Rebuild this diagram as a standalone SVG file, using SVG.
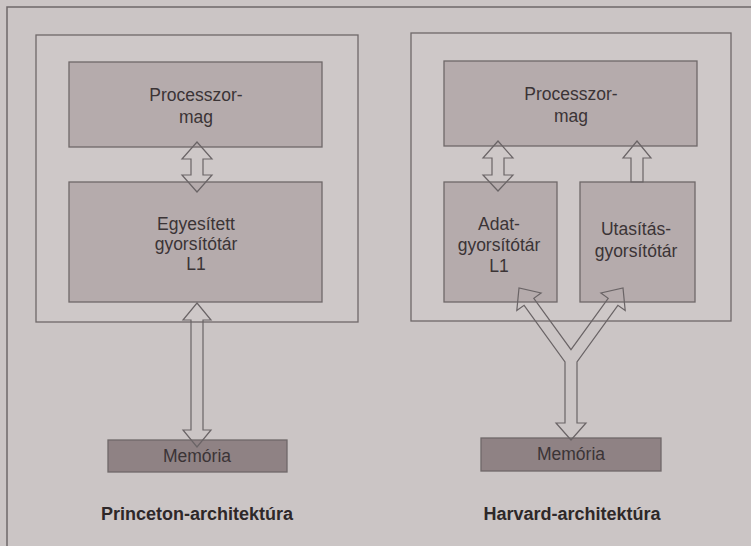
<svg xmlns="http://www.w3.org/2000/svg" width="751" height="546" viewBox="0 0 751 546">
<style>
.frame{fill:none;stroke:#6f6869;stroke-width:1.5}
.outer{fill:#cec8c8;stroke:#6f6869;stroke-width:1.3}
.box{fill:#b5abac;stroke:#6f6869;stroke-width:1.3}
.mem{fill:#8f8284;stroke:#6f6869;stroke-width:1.3}
.arr{fill:none;stroke:#6a6466;stroke-width:1.2;stroke-linejoin:miter}
.t{font-family:"Liberation Sans",Arial,sans-serif;font-size:17.5px;fill:#3b3436;text-anchor:middle}
.cap{font-family:"Liberation Sans",Arial,sans-serif;font-size:18px;font-weight:bold;fill:#2e2829;text-anchor:middle}
</style>
<rect x="0" y="0" width="751" height="546" fill="#cbc5c5"/>
<polyline class="frame" points="7,546 7,7 751,7"/>
<g id="princeton-chip"><rect class="outer" x="36" y="35" width="322" height="287"/></g>
<g id="harvard-chip"><rect class="outer" x="411" y="33" width="320" height="288"/></g>
<g id="p-core"><rect class="box" x="69" y="62" width="253" height="85"/>
<text class="t" x="196" y="101">Processzor-</text><text class="t" x="196" y="123">mag</text></g>
<g id="p-cache"><rect class="box" x="69" y="182" width="253" height="120"/>
<text class="t" x="196" y="230">Egyesített</text><text class="t" x="196" y="250">gyorsítótár</text><text class="t" x="196" y="270">L1</text></g>
<g id="p-mem"><rect class="mem" x="108" y="440" width="179" height="32"/>
<text class="t" x="197" y="462">Memória</text></g>
<g id="h-core"><rect class="box" x="444" y="61" width="253" height="85"/>
<text class="t" x="571" y="100">Processzor-</text><text class="t" x="571" y="122">mag</text></g>
<g id="h-dcache"><rect class="box" x="444" y="182" width="113" height="120"/>
<text class="t" x="499" y="230">Adat-</text><text class="t" x="499" y="251">gyorsítótár</text><text class="t" x="499" y="272">L1</text></g>
<g id="h-icache"><rect class="box" x="580" y="182" width="115" height="120"/>
<text class="t" x="636" y="235">Utasítás-</text><text class="t" x="636" y="257">gyorsítótár</text></g>
<g id="h-mem"><rect class="mem" x="481" y="438" width="180" height="33"/>
<text class="t" x="571" y="460">Memória</text></g>
<g id="connectors">
<polygon class="arr" points="197,142 212,159 203,159 203,175 212,175 197,192 182,175 191,175 191,159 182,159"/>
<polygon class="arr" points="197,303 211,320 203,320 203,430 211,430 197,447 183,430 191,430 191,320 183,320"/>
<polygon class="arr" points="498,141 513,158 504,158 504,175 513,175 498,191 483,175 492,175 492,158 483,158"/>
<polygon class="arr" points="637,141 651,158 643,158 643,182 631,182 631,158 623,158"/>
<polygon class="arr" points="571,440 556,423 565,423 565,362 524.1,305.3 516.8,310.6 519,288 541.1,293 533.8,298.3 571,349.7 608.2,298.3 600.9,293 623,288 625.2,310.6 617.9,305.3 577,362 577,423 586,423"/>
</g>
<text class="cap" x="197" y="520">Princeton-architektúra</text>
<text class="cap" x="572" y="520">Harvard-architektúra</text>
</svg>
